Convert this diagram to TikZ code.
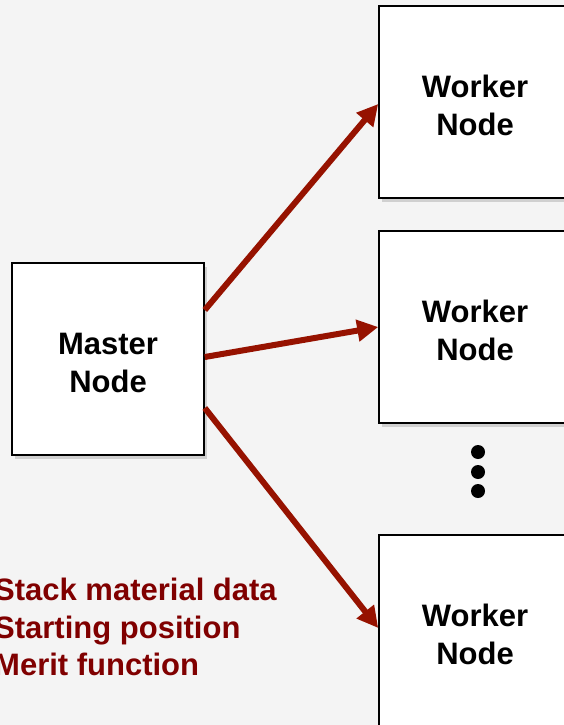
\documentclass[tikz,border=0pt]{standalone}
\usepackage{fontspec}
\setmainfont{Liberation Sans}
\usetikzlibrary{arrows.meta,shadows}
\definecolor{arrowred}{RGB}{150,18,0}
\definecolor{textred}{RGB}{128,0,0}
\definecolor{bggray}{RGB}{244,244,244}
\begin{document}
\begin{tikzpicture}[x=1pt,y=-1pt,
		box/.style={draw=black,line width=1.6pt,fill=white,inner sep=0pt,
			minimum width=192pt,minimum height=192pt,align=center,text height=67pt,
			font=\bfseries\fontsize{31}{38}\selectfont,
			drop shadow={shadow xshift=3pt,shadow yshift=-4pt,opacity=0.3}},
		link/.style={draw=arrowred,line width=6pt,-{Triangle[length=21pt,width=21pt]}},
		note/.style={text=textred,inner sep=0pt,anchor=base west,
			font=\bfseries\fontsize{31}{37}\selectfont}]
	\fill [bggray] (0,0) rectangle (564,725);
	\useasboundingbox (0,0) rectangle (564,725);
	% master and workers
	\node [box] (master) at (108,359) {Master\\Node};
	\node [box] (w1) at (475,102) {Worker\\Node};
	\node [box] (w2) at (475,327) {Worker\\Node};
	\node [box] (w3) at (475,631) {Worker\\Node};
	\foreach \y in {452,472,491}
		\fill (478,\y) circle (7pt);
	% links
	\draw [link] ([yshift=49pt]master.east) -- ([yshift=-2pt]w1.west);
	\draw [link] ([yshift=2pt]master.east) -- (w2.west);
	\draw [link] ([yshift=-49pt]master.east) -- ([yshift=3pt]w3.west);
	% what the master sends
	\node [note] (data) at (-6,600) {Stack material data};
	\node [note] (start) at (-6,638) {Starting position};
	\node [note] (merit) at (-6,675) {Merit function};
\end{tikzpicture}
\end{document}
